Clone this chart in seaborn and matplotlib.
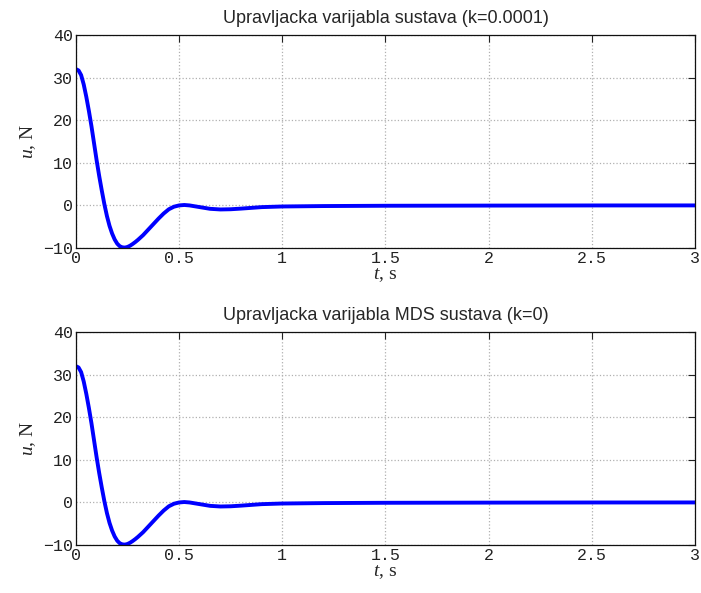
import numpy as np
import pandas as pd
import matplotlib
matplotlib.use("Agg")
import matplotlib.pyplot as plt
import seaborn as sns

# control signal (same response in both panels)
t_vals = [0.0, 0.0125, 0.025, 0.0375, 0.05, 0.0625, 0.075, 0.0875, 0.1, 0.1125,
          0.125, 0.1375, 0.15, 0.1625, 0.175, 0.1875, 0.2, 0.2125, 0.225, 0.2375,
          0.25, 0.2625, 0.275, 0.2875, 0.3, 0.325, 0.35, 0.375, 0.4, 0.425,
          0.45, 0.475, 0.5, 0.525, 0.55, 0.6, 0.65, 0.7, 0.75, 0.8,
          0.9, 1.0, 1.2, 1.5, 2.0, 2.5, 3.0]
u_vals = [32.0, 31.7, 30.6, 28.4, 25.5, 22.2, 18.6, 14.6, 10.6, 6.9,
          3.5, 0.3, -2.5, -4.8, -6.6, -8.0, -9.0, -9.6, -9.85, -9.9,
          -9.75, -9.45, -9.05, -8.6, -8.1, -7.0, -5.7, -4.4, -3.1, -1.9,
          -0.9, -0.3, 0.0, 0.1, 0.0, -0.4, -0.8, -0.95, -0.9, -0.75,
          -0.4, -0.25, -0.15, -0.08, -0.04, -0.01, 0.0]

titles = ['Upravljacka varijabla sustava (k=0.0001)',
          'Upravljacka varijabla MDS sustava (k=0)']
x_ticks = [0, 0.5, 1, 1.5, 2, 2.5, 3]
x_ticklabels = ['0', '0.5', '1', '1.5', '2', '2.5', '3']
y_ticks = [-10, 0, 10, 20, 30, 40]
y_ticklabels = ['\u221210', '0', '10', '20', '30', '40']

sns.set_style('white')
plt.rcParams['font.family'] = ['Liberation Sans', 'DejaVu Sans']
plt.rcParams['mathtext.fontset'] = 'custom'
plt.rcParams['mathtext.rm'] = 'Liberation Serif'
plt.rcParams['mathtext.it'] = 'Liberation Serif:italic'

df = pd.DataFrame({'t': t_vals, 'u': u_vals})

fig = plt.figure(figsize=(7.01, 5.93), dpi=100)
positions = [[0.1084, 0.5818, 0.883, 0.359],
             [0.1084, 0.0809, 0.883, 0.359]]

for pos, title in zip(positions, titles):
    ax = fig.add_axes(pos)
    sns.lineplot(data=df, x='t', y='u', ax=ax, color='#0000ff', lw=2.8)
    ax.set_xlim(0, 3)
    ax.set_ylim(-10, 40)
    ax.set_xticks(x_ticks)
    ax.set_xticklabels(x_ticklabels, family='Liberation Mono', fontsize=12)
    ax.set_yticks(y_ticks)
    ax.set_yticklabels(y_ticklabels, family='Liberation Mono', fontsize=12)
    ax.tick_params(direction='in', length=5, width=0.8, top=True, right=True,
                   pad=2, colors='#222222')
    ax.grid(True, ls=':', color='#b0b0b0', lw=0.9)
    for s in ax.spines.values():
        s.set_color('#111111')
        s.set_linewidth(0.9)
    ax.set_title(title, fontsize=13, pad=9)
    ax.set_xlabel(r'$t$, s', fontsize=14, family='Liberation Serif', labelpad=0)
    ax.set_ylabel(r'$u$, N', fontsize=14, family='Liberation Serif', labelpad=4)

fig.savefig('out.png', dpi=100)
